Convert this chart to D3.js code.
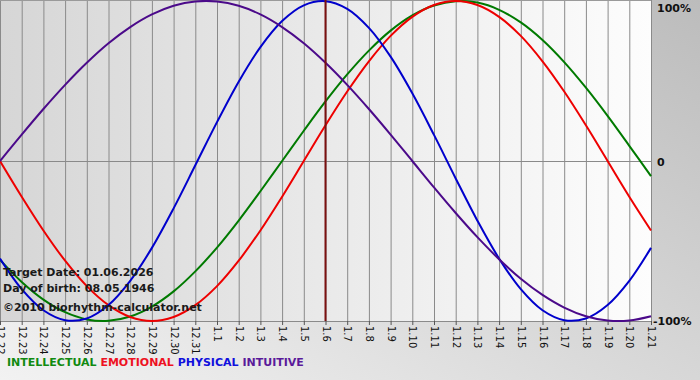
<!DOCTYPE html>
<meta charset="utf-8">
<script src="https://d3js.org/d3.v7.min.js"></script>
<style>
  body { margin: 0; }
  text { font-family: "DejaVu Sans", Verdana, sans-serif; }
</style>
<div id="chart"></div>
<script>

// day labels (month.day)
var days = ["12.22","12.23","12.24","12.25","12.26","12.27","12.28","12.29","12.30","12.31",
  "1.1","1.2","1.3","1.4","1.5","1.6","1.7","1.8","1.9","1.10","1.11","1.12","1.13",
  "1.14","1.15","1.16","1.17","1.18","1.19","1.20","1.21"];

// values, -1 .. 1
var intellectual = [-0.618,-0.756,-0.866,-0.945,-0.990,-0.999,-0.972,-0.910,-0.815,-0.690,-0.541,
  -0.372,-0.189,0.000,0.189,0.372,0.541,0.690,0.815,0.910,0.972,0.999,0.990,0.945,0.866,0.756,
  0.618,0.458,0.282,0.095,-0.095];
var emotional = [0.000,-0.223,-0.434,-0.623,-0.782,-0.901,-0.975,-1.000,-0.975,-0.901,-0.782,
  -0.623,-0.434,-0.223,0.000,0.223,0.434,0.623,0.782,0.901,0.975,1.000,0.975,0.901,0.782,0.623,
  0.434,0.223,0.000,-0.223,-0.434];
var physical = [-0.610,-0.801,-0.933,-0.995,-0.984,-0.900,-0.749,-0.543,-0.296,-0.027,0.243,
  0.496,0.712,0.875,0.973,0.999,0.951,0.832,0.652,0.423,0.163,-0.109,-0.373,-0.610,-0.801,
  -0.933,-0.995,-0.984,-0.900,-0.749,-0.543];
var intuitive = [0.000,0.165,0.325,0.476,0.614,0.736,0.837,0.916,0.970,0.997,0.997,0.970,0.916,
  0.837,0.736,0.614,0.476,0.325,0.165,0.000,-0.165,-0.325,-0.476,-0.614,-0.736,-0.837,-0.916,
  -0.970,-0.997,-0.997,-0.970];

var targetIndex = 15;   // 1.6
var infoLines = ["Target Date: 01.06.2026", "Day of birth: 08.05.1946", "\u00a92010 biorhythm-calculator.net"];

var series = [
  {name: "INTELLECTUAL", values: intellectual, color: "#007a00", text: "#118a11"},
  {name: "EMOTIONAL", values: emotional, color: "#ee0000", text: "#ee1122"},
  {name: "PHYSICAL", values: physical, color: "#0000cc", text: "#1010dd"},
  {name: "INTUITIVE", values: intuitive, color: "#4b0a8a", text: "#5a1a9a"}
];

var W = 700, H = 380;
var plotW = 651, plotH = 321;

var svg = d3.select("#chart").append("svg")
  .attr("width", W)
  .attr("height", H);

var defs = svg.append("defs");
var bg = defs.append("linearGradient").attr("id", "bg")
  .attr("x1", "0%").attr("y1", "100%").attr("x2", "100%").attr("y2", "0%");
bg.append("stop").attr("offset", "0%").attr("stop-color", "#f2f2f2");
bg.append("stop").attr("offset", "100%").attr("stop-color", "#bcbcbc");

var pg = defs.append("linearGradient").attr("id", "plotbg")
  .attr("x1", "0%").attr("y1", "0%").attr("x2", "100%").attr("y2", "0%");
pg.append("stop").attr("offset", "0%").attr("stop-color", "#d6d6d6");
pg.append("stop").attr("offset", "100%").attr("stop-color", "#fdfdfd");

svg.append("rect").attr("width", W).attr("height", H).attr("fill", "url(#bg)");
svg.append("rect").attr("width", plotW).attr("height", plotH).attr("fill", "url(#plotbg)");

var x = d3.scaleLinear().domain([0, days.length - 1]).range([0, plotW]);
var y = d3.scaleLinear().domain([-1, 1]).range([plotH, 1]);

// vertical grid
svg.append("g")
  .selectAll("line")
  .data(days)
  .enter()
  .append("line")
    .attr("x1", function(d, i) { return x(i) + 0.5; })
    .attr("x2", function(d, i) { return x(i) + 0.5; })
    .attr("y1", 0)
    .attr("y2", plotH)
    .style("stroke", "#8a8a8a");

// zero line and top line
svg.append("line")
  .attr("x1", 0).attr("x2", plotW)
  .attr("y1", Math.round(y(0)) + 0.5).attr("y2", Math.round(y(0)) + 0.5)
  .style("stroke", "#8a8a8a");
svg.append("line")
  .attr("x1", 0).attr("x2", plotW)
  .attr("y1", 0.5).attr("y2", 0.5)
  .style("stroke", "#9a9a9a");

// bottom axis with rotated labels
var axis = svg.append("g")
  .attr("transform", "translate(0," + plotH + ")")
  .call(d3.axisBottom(x)
    .tickValues(d3.range(days.length))
    .tickFormat(function(i) { return days[i]; })
    .tickSize(4)
    .tickSizeOuter(0));
axis.select(".domain").style("stroke", "#8a8a8a");
axis.selectAll(".tick line").style("stroke", "#555");
axis.selectAll(".tick text")
  .attr("transform", "rotate(90)")
  .attr("x", 5)
  .attr("y", 0)
  .attr("dy", "0.35em")
  .style("text-anchor", "start")
  .style("font-size", "10px")
  .style("font-family", "DejaVu Sans, Verdana, sans-serif")
  .style("fill", "#111");

// curves
var line = d3.line()
  .x(function(d, i) { return x(i); })
  .y(function(d) { return y(d); })
  .curve(d3.curveCatmullRom);

svg.append("g")
  .selectAll("path")
  .data(series)
  .enter()
  .append("path")
    .attr("d", function(d) { return line(d.values); })
    .style("fill", "none")
    .style("stroke", function(d) { return d.color; })
    .style("stroke-width", 2);

// target day marker
svg.append("line")
  .attr("x1", x(targetIndex)).attr("x2", x(targetIndex))
  .attr("y1", 0).attr("y2", plotH)
  .style("stroke", "#7a1010")
  .style("stroke-width", 2);

// right labels
var rl = [{v: 1, t: "100%", dx: 657, dy: 11}, {v: 0, t: "0", dx: 657, dy: 5}, {v: -1, t: "-100%", dx: 653, dy: 4}];
svg.append("g")
  .selectAll("text")
  .data(rl)
  .enter()
  .append("text")
    .attr("x", function(d) { return d.dx; })
    .attr("y", function(d) { return y(d.v) + d.dy; })
    .text(function(d) { return d.t; })
    .style("font-size", "11px")
    .style("font-weight", "bold")
    .style("fill", "#111");

// info text
svg.append("g")
  .selectAll("text")
  .data(infoLines)
  .enter()
  .append("text")
    .attr("x", 3)
    .attr("y", function(d, i) { return [276, 292, 311][i]; })
    .text(function(d) { return d; })
    .style("font-size", "11px")
    .style("font-weight", "bold")
    .style("fill", "#1a1a1a");

// legend
var lg = svg.append("text")
  .attr("x", 7)
  .attr("y", 366)
  .style("font-size", "11px")
  .style("font-weight", "bold");
lg.selectAll("tspan")
  .data(series)
  .enter()
  .append("tspan")
    .text(function(d, i) { return (i ? " " : "") + d.name; })
    .style("fill", function(d) { return d.text; });

</script>
